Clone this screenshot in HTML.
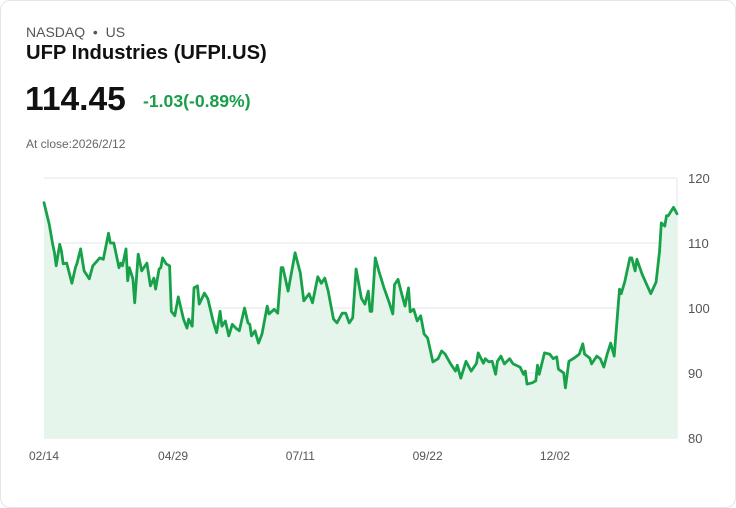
<!DOCTYPE html>
<html><head><meta charset="utf-8"><style>
body{margin:0;background:#fff;font-family:"Liberation Sans",sans-serif;}
.card{position:absolute;left:0;top:0;width:734px;height:506px;border:1px solid #e3e6ea;border-radius:10px;background:#fff;}
.t{position:absolute;white-space:nowrap;}
</style></head><body>
<div class="card">
<div class="t" style="left:25px;top:23px;font-size:14px;color:#555;">NASDAQ &nbsp;•&nbsp; US</div>
<div class="t" style="left:25px;top:41px;font-size:20.2px;font-weight:bold;color:#111;">UFP Industries (UFPI.US)</div>
<div class="t" style="left:24px;top:80px;font-size:33.6px;font-weight:bold;color:#111;">114.45</div>
<div class="t" style="left:142px;top:90px;font-size:17.6px;font-weight:bold;color:#1a9e4a;">-1.03(-0.89%)</div>
<div class="t" style="left:25px;top:136px;font-size:12px;color:#666;">At close:2026/2/12</div>
<svg id="chart" width="736" height="508" style="position:absolute;left:-1px;top:-1px;"></svg>
</div>
<script>
const days=[0,3,5,6,7,9,10,11,13,16,18,19,21,23,26,28,32,34,37,38,40,43,44,45,47,48,49,51,52,54,56,59,61,63,64,66,67,68,70,72,73,75,77,80,82,83,85,86,88,89,92,94,97,99,101,102,104,106,108,110,112,115,117,118,119,121,123,125,128,129,132,134,136,137,140,144,147,149,152,154,157,159,161,163,166,168,171,173,175,177,179,182,184,186,187,188,190,192,195,198,200,201,203,205,207,209,210,212,214,216,218,220,223,226,228,230,233,236,237,239,242,245,248,249,252,253,255,257,259,260,262,264,267,269,273,275,276,277,280,282,283,284,287,290,292,294,295,298,299,301,304,307,309,310,313,314,317,319,321,323,325,327,330,331,333,336,337,339,340,343,348,351,353,354,356,357,358,361,363];
const prices=[116.2,112.9,109.8,108.5,106.5,109.8,108.8,106.8,106.9,103.8,106.2,106.9,109.1,105.7,104.5,106.5,107.7,107.5,111.5,110.0,110.0,106.2,106.9,106.5,109.1,104.2,106.2,104.5,100.8,108.3,105.7,106.9,103.4,104.6,102.9,106.0,106.2,107.7,106.8,106.5,99.5,98.8,101.7,98.3,96.9,98.3,97.2,103.1,103.4,100.6,102.3,101.4,98.0,96.2,99.5,97.2,98.0,95.7,97.5,96.9,96.5,100.0,97.7,97.5,95.7,96.5,94.6,96.0,100.3,99.1,99.8,99.2,106.2,106.2,102.6,108.5,105.4,101.1,102.2,100.8,104.8,103.8,104.6,102.6,98.3,97.7,99.2,99.2,97.7,98.5,106.0,101.5,100.6,102.6,99.5,99.5,107.7,105.7,103.1,100.8,99.1,103.6,104.4,102.3,100.3,103.1,99.4,99.8,98.0,98.8,96.0,95.4,91.7,92.2,93.4,92.9,91.5,90.3,91.2,89.2,91.8,90.3,91.5,93.1,91.5,92.2,91.7,91.8,89.8,91.8,92.6,91.4,92.2,91.4,90.9,89.8,90.3,88.3,88.5,88.8,91.2,89.8,93.1,92.9,92.2,92.5,90.6,90.0,87.7,91.8,92.3,92.9,94.5,92.9,92.3,91.4,92.6,92.2,90.9,92.9,94.6,92.6,102.9,102.2,104.0,107.7,107.7,105.7,107.5,105.2,102.2,104.0,108.8,113.1,112.6,114.2,114.2,115.5,114.5];
const yTicks=[80,90,100,110,120];
const xTickDays=[0,74,147,220,293];
const xTickLabels=["02/14","04/29","07/11","09/22","12/02"];
const X0=44,X1=677,Y0=438,Y1=178,DMAX=363;
const xs=d=>X0+(X1-X0)*d/DMAX;
const ys=v=>Y0-(Y0-Y1)*(v-80)/40;
const svg=document.getElementById('chart');
const NS="http://www.w3.org/2000/svg";
function mk(t,a){const e=document.createElementNS(NS,t);for(const k in a)e.setAttribute(k,a[k]);svg.appendChild(e);return e;}
yTicks.forEach(v=>{
 const l=mk('line',{x1:X0,x2:X1,y1:ys(v),y2:ys(v),stroke:'#e2e4e7','stroke-width':1});
 
 
 const t=mk('text',{x:688,y:ys(v)+5,'font-size':13,fill:'#555','font-family':'Liberation Sans, sans-serif'});
 t.textContent=v;
 
 
});
const ax=mk('line',{x1:X1,x2:X1,y1:Y1,y2:Y0,stroke:'#e2e4e7','stroke-width':1});


xTickDays.forEach((d,i)=>{
 const t=mk('text',{x:xs(d),y:460,'font-size':12,fill:'#555','text-anchor':'middle','font-family':'Liberation Sans, sans-serif'});
 t.textContent=xTickLabels[i];
 
 
});
let p=days.map((d,i)=>(i?'L':'M')+xs(d).toFixed(1)+','+ys(prices[i]).toFixed(1)).join('');
const area=mk('path',{d:p+'L'+xs(days[days.length-1])+','+Y0+'L'+xs(0)+','+Y0+'Z',fill:'#e6f5ec'});


const line=mk('path',{d:p,fill:'none',stroke:'#17a24a','stroke-width':2.8,'stroke-linejoin':'round','stroke-linecap':'round'});


</script>
</body></html>
